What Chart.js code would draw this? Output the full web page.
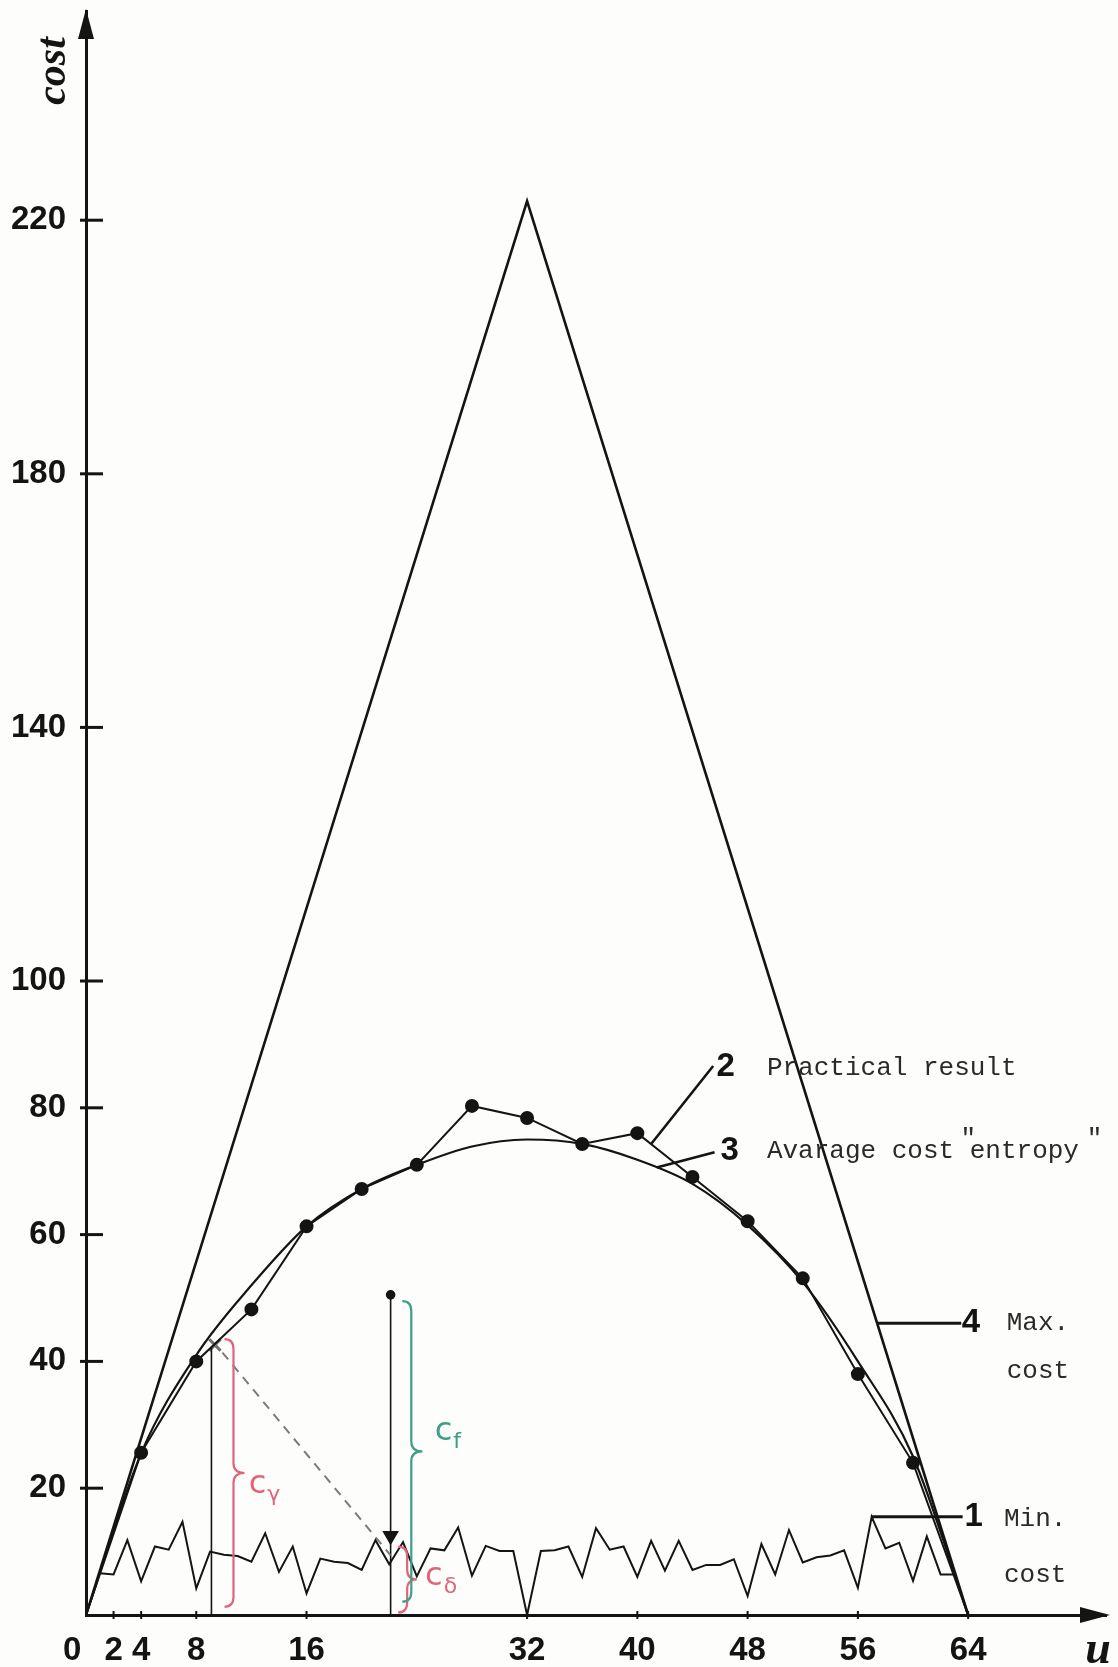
<!DOCTYPE html>
<html lang="en">
<head>
<meta charset="UTF-8" />
<title>Cost against u</title>
<script src="https://cdn.jsdelivr.net/npm/chart.js"></script>
<style>
  html, body { margin: 0; padding: 0; background: #fdfdfb; }
</style>
</head>
<body>
<canvas id="costChart" width="1118" height="1667"></canvas>
<script>
// tick labels
const xTickValues = [0, 2, 4, 8, 16, 32, 40, 48, 56, 64];
const yTickValues = [20, 40, 60, 80, 100, 140, 180, 220];

// 4 - max cost
const maxU = [0, 32, 64];
const maxCost = [0, 223, 0];

// 2 - practical result
const practicalU = [0, 4, 8, 12, 16, 20, 24, 28, 32, 36, 40, 44, 48, 52, 56, 60, 64];
const practicalCost = [0, 25.6, 40, 48.2, 61.3, 67.2, 71, 80.3, 78.4, 74.3, 76, 69.1, 62.1, 53.1, 38, 24, 0];

// 3 - average cost "entropy"
const entropyU = [0, 4, 8, 12, 16, 20, 24, 28, 32, 36, 40, 44, 48, 52, 56, 60, 64];
const entropyCost = [0, 25.5, 41, 52, 61.3, 67.2, 71, 73.9, 75, 74.3, 71.8, 68, 61.5, 52.5, 40, 25, 0];

// 1 - min cost
const minU = [1, 2, 3, 4, 5, 6, 7, 8, 9, 10, 11, 12, 13, 14, 15, 16, 17, 18, 19, 20, 21,
  22, 23, 24, 25, 26, 27, 28, 29, 30, 31, 32, 33, 34, 35, 36, 37, 38, 39, 40, 41, 42,
  43, 44, 45, 46, 47, 48, 49, 50, 51, 52, 53, 54, 55, 56, 57, 58, 59, 60, 61, 62, 63];
const minCost = [6.6, 6.4, 11.8, 5.3, 10.8, 10.3, 14.7, 4.2, 10.0, 9.5, 9.3, 8.4, 12.9, 6.8,
  10.8, 3.4, 8.9, 8.4, 8.2, 7.1, 11.8, 8.0, 11.5, 6.1, 10.5, 10.2, 13.8, 6.2, 10.9, 10.1,
  10.1, 0, 10.1, 10.2, 10.8, 6.0, 13.7, 10.3, 10.8, 6.0, 11.7, 7.0, 11.7, 7.1, 7.9, 7.9,
  8.8, 3.0, 11.2, 6.4, 13.4, 8.3, 9.1, 9.4, 10.2, 4.3, 15.5, 10.5, 11.4, 5.4, 12.4, 6.4, 6.4];

// hand-drawn guides (u, cost)
const guideNine = [[9.1, 42.3], [9.1, 0]];
const crossMark = [[9.35, 42.6]];
const dashedGuide = [[9.9, 41.4], [22.1, 9.4]];
const guideTwentyTwo = [[22.1, 50.5], [22.1, 12.5], [22.1, 0]];

// label leaders
const leader2 = [[41.0, 74.3], [45.5, 86.6]];
const leader3 = [[41.4, 70.6], [45.6, 73.0]];
const leader4 = [[57.4, 46], [63.5, 46]];
const leader1 = [[57, 15.5], [63.6, 15.5]];

const ink = "#141414";
const red = "#e0657c";
const green = "#3e9f88";

const pairs = (us, cs) => us.map((u, i) => ({ x: u, y: cs[i] }));
const pts = (list) => list.map(([u, c]) => ({ x: u, y: c }));

function brace(ctx, xb, xt, yTop, yBot) {
  const ym = (yTop + yBot) / 2, r = 10;
  ctx.beginPath();
  ctx.moveTo(xb - 9, yTop);
  ctx.quadraticCurveTo(xb, yTop, xb, yTop + r);
  ctx.lineTo(xb, ym - r);
  ctx.quadraticCurveTo(xb, ym, xt, ym);
  ctx.quadraticCurveTo(xb, ym, xb, ym + r);
  ctx.lineTo(xb, yBot - r);
  ctx.quadraticCurveTo(xb, yBot, xb - 9, yBot);
  ctx.stroke();
}

function subText(ctx, main, sub, x, y, color) {
  ctx.fillStyle = color;
  ctx.textAlign = "left";
  ctx.textBaseline = "alphabetic";
  ctx.font = '32px "DejaVu Sans"';
  ctx.fillText(main, x, y);
  const w = ctx.measureText(main).width;
  ctx.font = '22px "DejaVu Sans"';
  ctx.fillText(sub, x + w + 1, y + 8);
}

const paperNotes = {
  id: "paperNotes",
  afterDraw(chart) {
    const { ctx, chartArea: a, scales } = chart;
    const px = (u) => scales.x.getPixelForValue(u);
    const py = (c) => scales.y.getPixelForValue(c);
    ctx.save();

    // axis arrows
    ctx.fillStyle = ink;
    ctx.beginPath();
    ctx.moveTo(a.left, a.top - 2);
    ctx.lineTo(a.left - 8, a.top + 28);
    ctx.lineTo(a.left + 8, a.top + 28);
    ctx.closePath();
    ctx.fill();
    ctx.beginPath();
    ctx.moveTo(a.right + 4, a.bottom);
    ctx.lineTo(a.right - 26, a.bottom - 8);
    ctx.lineTo(a.right - 26, a.bottom + 8);
    ctx.closePath();
    ctx.fill();

    // tick marks
    ctx.strokeStyle = ink;
    ctx.lineWidth = 3;
    yTickValues.forEach((v) => {
      ctx.beginPath();
      ctx.moveTo(a.left - 6, py(v));
      ctx.lineTo(a.left + 17, py(v));
      ctx.stroke();
    });
    ctx.lineWidth = 2;
    xTickValues.slice(1).forEach((v) => {
      ctx.beginPath();
      ctx.moveTo(px(v), a.bottom - 4);
      ctx.lineTo(px(v), a.bottom + 4);
      ctx.stroke();
    });

    // axis titles
    ctx.fillStyle = ink;
    ctx.font = 'italic bold 42px "Liberation Serif"';
    ctx.textAlign = "center";
    ctx.textBaseline = "middle";
    ctx.save();
    ctx.translate(a.left - 32, a.top + 60);
    ctx.rotate(-Math.PI / 2);
    ctx.fillText("cost", 0, 0);
    ctx.restore();
    ctx.font = 'italic bold 46px "Liberation Serif"';
    ctx.fillText("u", a.right - 8, a.bottom + 36);

    // curve numbers
    ctx.font = 'bold 33px "Liberation Sans"';
    ctx.fillText("2", px(46.4), py(86.5));
    ctx.fillText("3", px(46.7), py(73.2));
    ctx.fillText("4", px(64.2), py(46));
    ctx.fillText("1", px(64.4), py(15.5));

    // typewritten captions
    ctx.fillStyle = "#2a2a2a";
    ctx.font = '26px "Liberation Mono"';
    ctx.textAlign = "left";
    ctx.fillText("Practical result", px(49.4), py(86.3));
    const capX = px(49.4), capY = py(73.2);
    ctx.fillText("Avarage cost entropy", capX, capY);
    const ch = ctx.measureText("M").width;
    ctx.fillText('"', capX + ch * 12.4, capY - 12);
    ctx.fillText('"', capX + ch * 20.5, capY - 12);
    ctx.fillText("Max.", px(66.8), py(46));
    ctx.fillText("cost", px(66.8), py(38.5));
    ctx.fillText("Min.", px(66.6), py(15.2));
    ctx.fillText("cost", px(66.6), py(6.3));

    // coloured braces
    ctx.lineWidth = 2.2;
    ctx.strokeStyle = red;
    brace(ctx, px(10.7), px(11.5), py(43.5), py(1.3));
    brace(ctx, px(23.3), px(24.0), py(10.8), py(0.4));
    ctx.strokeStyle = green;
    brace(ctx, px(23.6), px(24.4), py(49.5), py(2.1));
    subText(ctx, "c", "\u03b3", px(11.8), py(19.3), red);
    subText(ctx, "c", "f", px(25.3), py(27.6), green);
    subText(ctx, "c", "\u03b4", px(24.6), py(4.7), red);

    ctx.restore();
  }
};

Chart.defaults.font.family = '"Liberation Sans", Arial, sans-serif';
Chart.defaults.color = ink;

const lineSet = (data, width, extra) => Object.assign({
  data: data,
  borderColor: ink,
  backgroundColor: ink,
  borderWidth: width,
  pointRadius: 0,
  fill: false,
  tension: 0
}, extra || {});

new Chart(document.getElementById("costChart"), {
  type: "line",
  data: {
    datasets: [
      lineSet(pairs(practicalU, practicalCost), 2, {
        pointRadius: practicalU.map((u, i) => (i === 0 || i === practicalU.length - 1 ? 0 : 6))
      }),
      lineSet(pairs(entropyU, entropyCost), 2.2, { cubicInterpolationMode: "monotone" }),
      lineSet(pairs(maxU, maxCost), 2.6),
      lineSet(pairs(minU, minCost), 2),
      lineSet(pts(leader2), 2.6),
      lineSet(pts(leader3), 2.6),
      lineSet(pts(leader4), 3),
      lineSet(pts(leader1), 3),
      lineSet(pts(guideNine), 1.6),
      lineSet(pts(dashedGuide), 2, { borderColor: "#7a7a7a", borderDash: [9, 7] }),
      lineSet(pts(guideTwentyTwo), 1.6, {
        pointRadius: [4, 8, 0],
        pointStyle: ["circle", "triangle", "circle"],
        rotation: [0, 180, 0]
      }),
      lineSet(pts(crossMark), 0, {
        showLine: false,
        pointStyle: "crossRot",
        pointRadius: 8,
        pointBorderWidth: 3,
        pointBorderColor: "#6f6f6f"
      })
    ]
  },
  options: {
    responsive: false,
    maintainAspectRatio: false,
    animation: false,
    layout: { padding: { top: 10, right: 12, left: 0, bottom: 0 } },
    plugins: { legend: { display: false }, tooltip: { enabled: false } },
    scales: {
      x: {
        type: "linear",
        min: 0,
        max: 74,
        grid: { display: false },
        border: { display: true, color: ink, width: 3 },
        afterBuildTicks: (s) => { s.ticks = xTickValues.map((v) => ({ value: v })); },
        afterFit: (s) => { s.height = 52; s.paddingLeft = 0; s.paddingRight = 0; },
        ticks: {
          autoSkip: false,
          maxRotation: 0,
          padding: 8,
          color: ink,
          font: { size: 33, weight: "bold" },
          callback: (v) => (v === 0 ? "0   " : String(v))
        }
      },
      y: {
        type: "linear",
        min: 0,
        max: 253,
        grid: { display: false },
        border: { display: true, color: ink, width: 3 },
        afterBuildTicks: (s) => { s.ticks = yTickValues.map((v) => ({ value: v })); },
        afterFit: (s) => { s.width = 86; s.paddingTop = 0; s.paddingBottom = 0; },
        ticks: {
          autoSkip: false,
          padding: 12,
          color: ink,
          font: { size: 33, weight: "bold" }
        }
      }
    }
  },
  plugins: [paperNotes]
});
</script>
</body>
</html>
